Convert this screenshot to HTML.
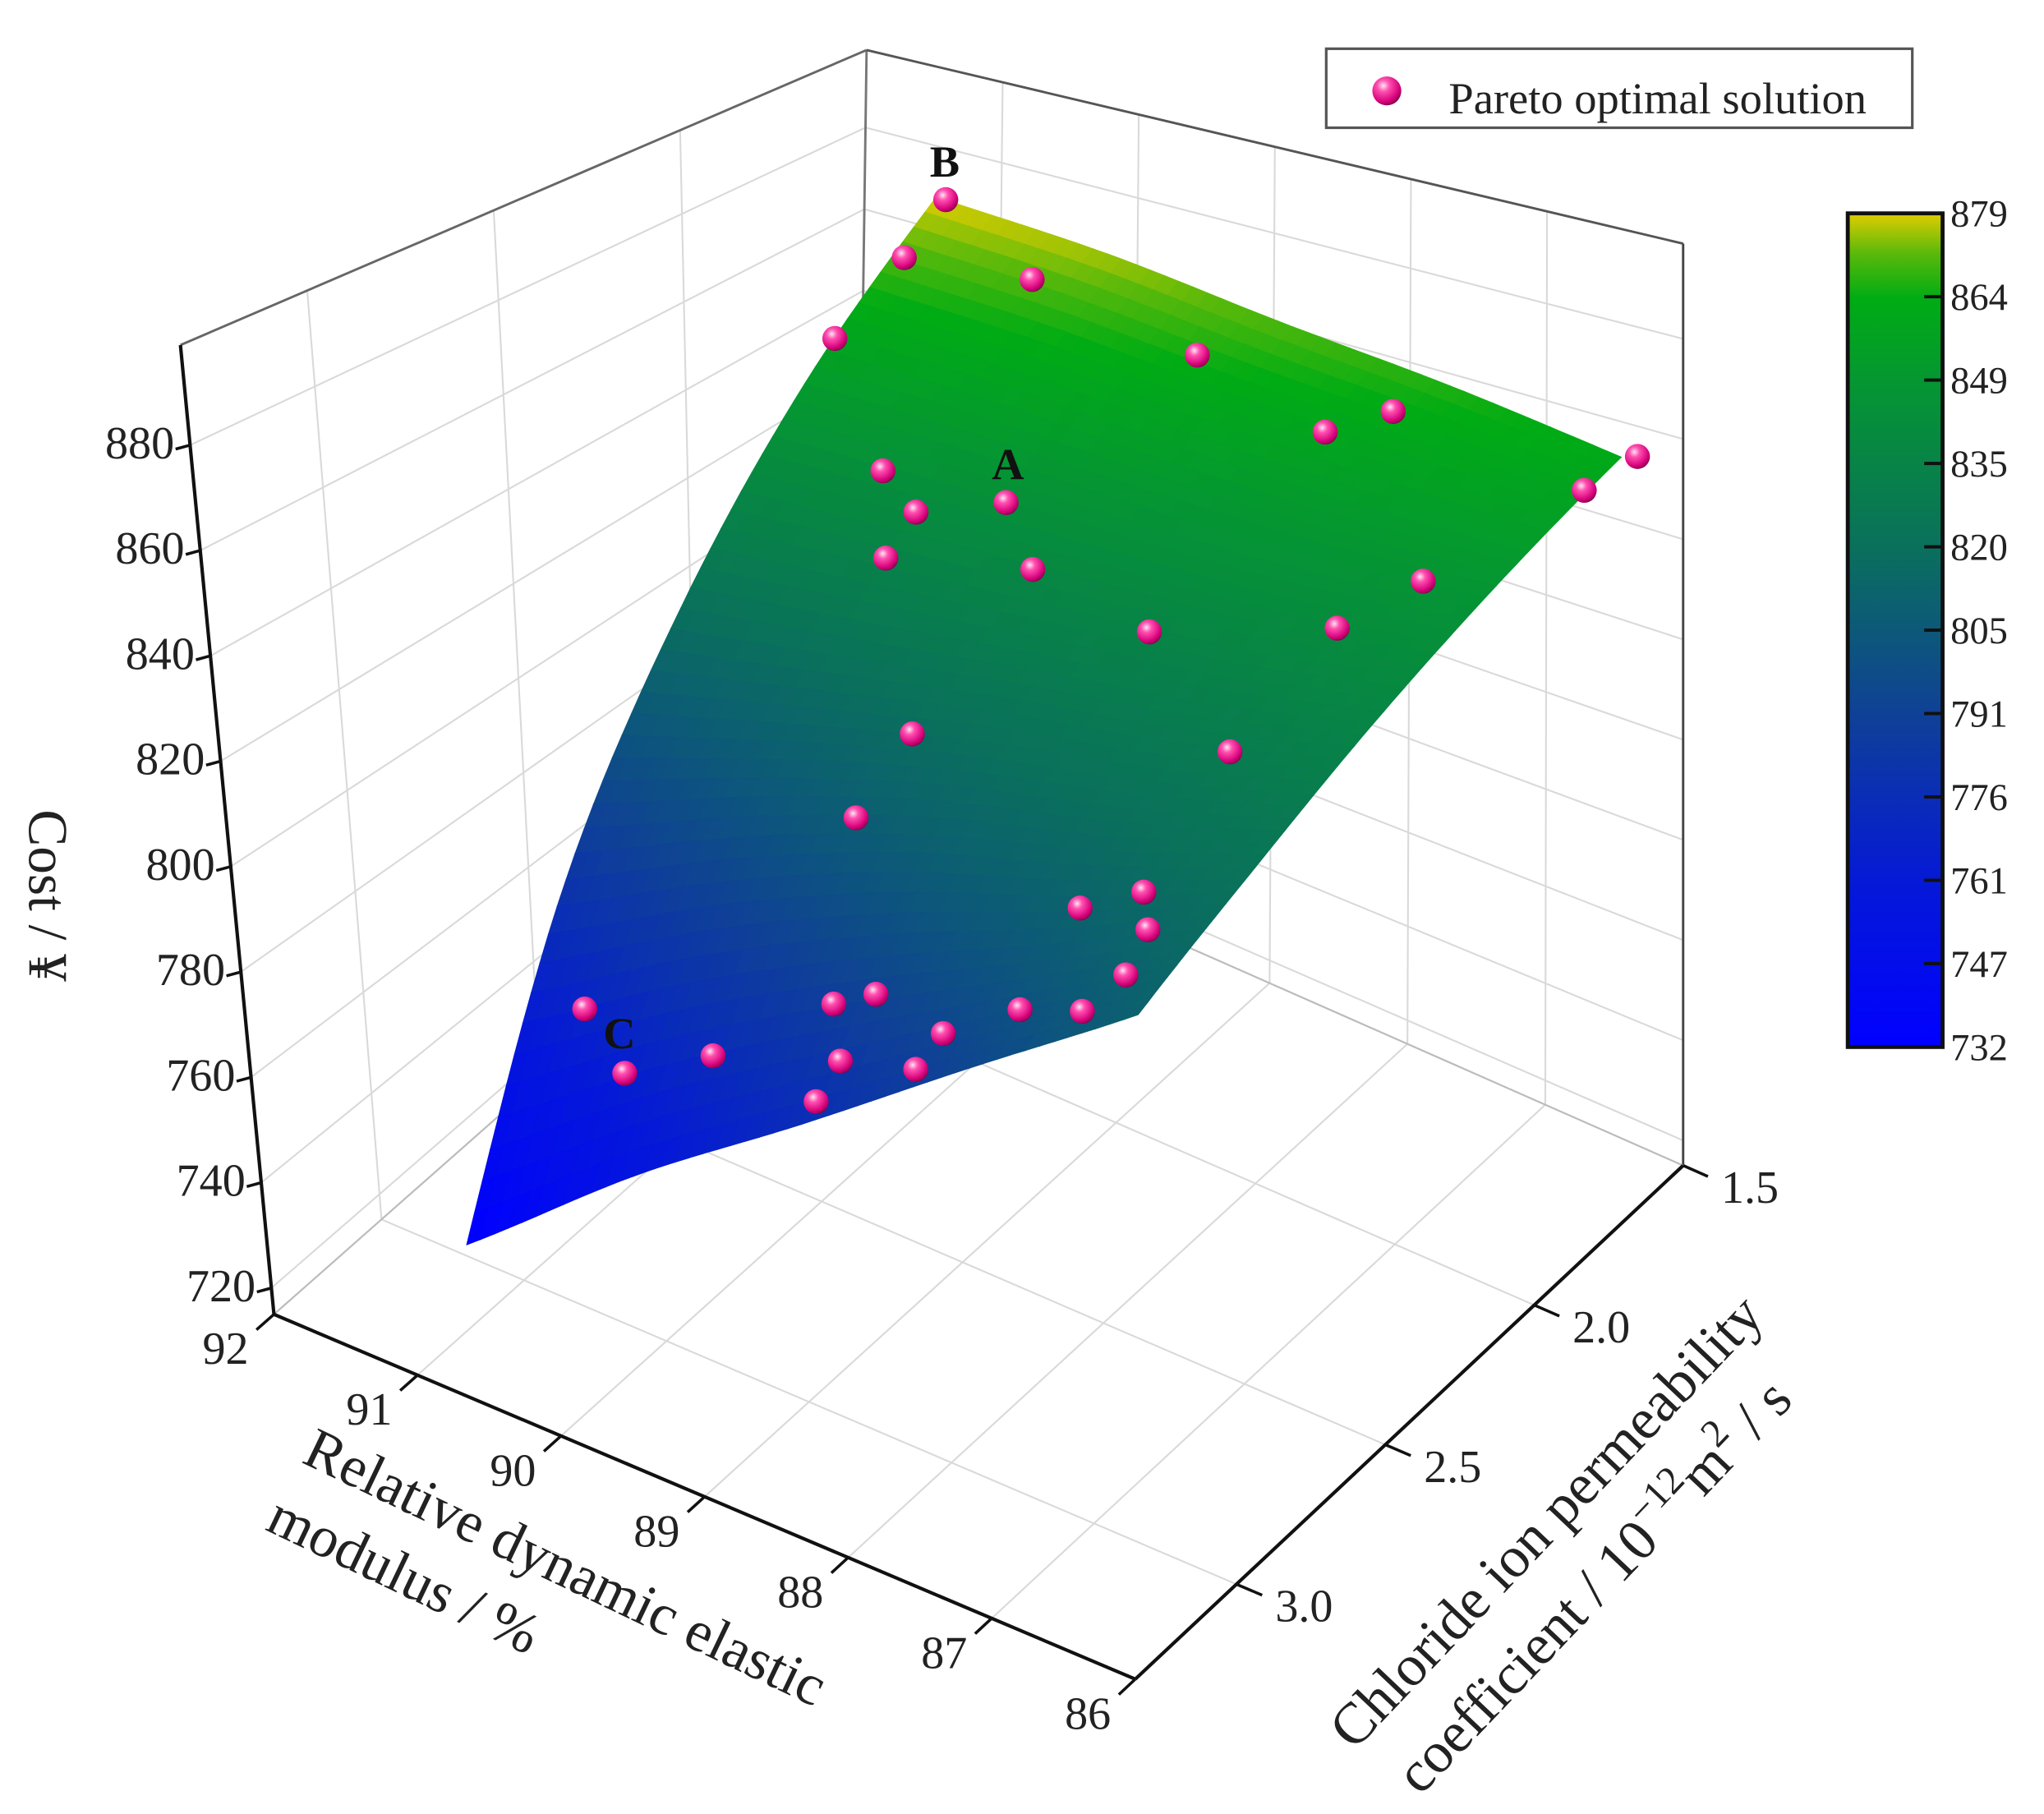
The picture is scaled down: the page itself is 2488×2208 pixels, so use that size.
<!DOCTYPE html>
<html><head><meta charset="utf-8"><style>
html,body{margin:0;padding:0;background:#fff;}
svg{display:block;font-family:"Liberation Serif",serif;}
</style></head><body>
<svg id="chart" width="2488" height="2208" viewBox="0 0 1552 1377.4" preserveAspectRatio="none" xmlns="http://www.w3.org/2000/svg">
<defs>
<radialGradient id="ball" cx="0.38" cy="0.32" r="0.7">
<stop offset="0" stop-color="#ffe6f4"/><stop offset="0.3" stop-color="#ff4fb0"/><stop offset="0.8" stop-color="#d6007a"/><stop offset="1" stop-color="#8a0050"/>
</radialGradient>
<linearGradient id="cbar" x1="0" y1="1" x2="0" y2="0">
<stop offset="0" stop-color="rgb(0,0,255)"/><stop offset="0.197" stop-color="rgb(5,25,215)"/><stop offset="0.401" stop-color="rgb(15,65,150)"/><stop offset="0.599" stop-color="rgb(10,112,92)"/><stop offset="0.796" stop-color="rgb(5,150,50)"/><stop offset="0.898" stop-color="rgb(0,172,20)"/><stop offset="0.952" stop-color="rgb(90,185,10)"/><stop offset="1" stop-color="rgb(225,205,0)"/>
</linearGradient>
</defs>
<g id="grid"></g><g id="surface"></g><g id="axes"></g><g id="points"></g>
<g>
<rect x="1007" y="37" width="445" height="60" fill="#fff" stroke="#555" stroke-width="2"/>
<circle cx="1053" cy="69" r="11" fill="url(#ball)"/>
<text x="1100" y="86" font-size="34" fill="#222">Pareto optimal solution</text>
</g>
<g id="colorbar">
<rect x="1403" y="162" width="72" height="633" fill="url(#cbar)" stroke="#111" stroke-width="3"/>
</g>
<text x="0" y="0" font-size="42" fill="#222" text-anchor="middle" transform="translate(22,680) rotate(90)">Cost / ¥</text>
<g transform="translate(228,1110) rotate(25.5)" font-size="44" fill="#222">
<text x="0" y="0">Relative dynamic elastic</text>
<text x="-3" y="58">modulus / %</text>
</g>
<g transform="translate(1028,1330) rotate(-46.5)" font-size="44" fill="#222">
<text x="0" y="0">Chloride ion permeability</text>
<text x="10" y="60">coefficient / 10<tspan font-size="30" dy="-18">−12</tspan><tspan dy="18">m</tspan><tspan font-size="30" dy="-18">2</tspan><tspan dy="18"> / s</tspan></text>
</g>
<text x="753" y="364" font-size="34" font-weight="bold" fill="#111">A</text>
<text x="706" y="134" font-size="34" font-weight="bold" fill="#111">B</text>
<text x="458" y="796" font-size="34" font-weight="bold" fill="#111">C</text>
</svg>
<script>
// ---- data ----
const costTicks=[720,740,760,780,800,820,840,860,880];
const rdemTicks=[92,91,90,89,88,87,86];
const chlTicks=[3.0,2.5,2.0,1.5];
const cbarLabels=[879,864,849,835,820,805,791,776,761,747,732];
const surfRdem=[91,89.75,88.5,87.25,86];
const surfChl=[3.16,2.79,2.42,2.05,1.68];
const surfCostRow0=[730,755,775,794,811];
const surfCostRow1=[782,797,808,815,823];
const surfCostRow2=[820,824,828,831,836];
const surfCostRow3=[852,851,849,848,849];
const surfCostRow4=[879,876,871,867,862];
const ptRdem=[90.93,90.97,90.09,91.01,88.81,87.46,87.78,85.88,86.02,90.24,89.35,89.88,89.88,88.89,86.58,86.79,87.88,88.98,86.83,89.07,87.11,86.74,86.43,86.34,90.53,90.05,89.40,88.57,88.26,88.38,88.43,87.69,87.62,87.10,86.50];
const ptChl=[1.68,1.78,1.76,1.96,1.79,1.76,1.83,1.68,1.78,2.13,2.13,2.18,2.27,2.24,2.03,2.20,2.31,2.57,2.51,2.71,2.86,2.82,2.94,3.05,2.95,3.04,3.04,3.01,3.01,3.08,3.14,3.14,3.08,3.06,3.12];
const ptCost=[879,869.4,870.7,858.2,865.4,862.9,858.7,863,858.5,842.8,843.3,839.1,833.3,837.6,845.2,840.5,835.7,817.8,828.2,806.9,811.1,815,814.8,811.6,768.8,765.4,774.4,789.2,793.3,783.6,778.6,789.8,794.1,801.1,807];
const surfCost=[surfCostRow0,surfCostRow1,surfCostRow2,surfCostRow3,surfCostRow4];
// ---- axes / projection ----
const NS="http://www.w3.org/2000/svg";
function uOf(r){return (92-r)/6;}
function vOf(c){return (3.34-c)/1.84;}
function wOf(z){return (z-715)/184;}
function projUVW(u,v,w){
 const bx=208+654*u+442*v-26*u*v, by=998+277*u-390*v;
 const tx=137+643*u+521*v-23*u*v, ty=262+98*u-224*v+49*u*v;
 return [bx+w*(tx-bx), by+w*(ty-by)];
}
function proj(r,c,z){return projUVW(uOf(r),vOf(c),wOf(z));}
function mk(tag,attrs,parent){const e=document.createElementNS(NS,tag);for(const k in attrs)e.setAttribute(k,attrs[k]);parent.appendChild(e);return e;}
const stops=[[732,[0,0,255]],[761,[5,25,215]],[791,[15,65,150]],[820,[10,112,92]],[849,[5,150,50]],[864,[0,172,20]],[872,[90,185,10]],[879,[225,205,0]]];
function cmap(z){
 if(z<=stops[0][0])return stops[0][1];
 for(let i=1;i<stops.length;i++){if(z<=stops[i][0]){const a=stops[i-1],b=stops[i],t=(z-a[0])/(b[0]-a[0]);return a[1].map((x,k)=>Math.round(x+(b[1][k]-x)*t));}}
 return stops[stops.length-1][1];
}
const G=document.getElementById('grid');
const gc='#d9d9d9';
function line(p,q,parent,stroke,sw,name){const l=mk('line',{x1:p[0],y1:p[1],x2:q[0],y2:q[1],stroke:stroke,'stroke-width':sw},parent);return l;}
rdemTicks.forEach(r=>{const u=uOf(r);
 line(projUVW(u,0,0),projUVW(u,1,0),G,gc,1.3,'floor-gridline');
 line(projUVW(u,1,0),projUVW(u,1,1),G,gc,1.3,'back-wall-gridline');});
chlTicks.forEach(c=>{const v=vOf(c);
 line(projUVW(0,v,0),projUVW(1,v,0),G,gc,1.3,'floor-gridline');
 line(projUVW(0,v,0),projUVW(0,v,1),G,gc,1.3,'left-wall-gridline');});
costTicks.forEach(z=>{const w=wOf(z);
 line(projUVW(0,0,w),projUVW(0,1,w),G,gc,1.3,'left-wall-gridline');
 line(projUVW(0,1,w),projUVW(1,1,w),G,gc,1.3,'back-wall-gridline');});
line(projUVW(0,1,0),projUVW(0,1,1),G,'#777',1.8,'box-edge');
line(projUVW(1,1,0),projUVW(1,1,1),G,'#444',1.8,'box-edge');
line(projUVW(0,0,1),projUVW(0,1,1),G,'#666',1.8,'box-edge');
line(projUVW(0,1,1),projUVW(1,1,1),G,'#555',1.8,'box-edge');
line(projUVW(0,0,0),projUVW(0,1,0),G,'#bbb',1.3,'box-edge');
line(projUVW(0,1,0),projUVW(1,1,0),G,'#bbb',1.3,'box-edge');
const S=document.getElementById('surface');

function cr(p0,p1,p2,p3,t){return 0.5*((2*p1)+(-p0+p2)*t+(2*p0-5*p1+4*p2-p3)*t*t+(-p0+3*p1-3*p2+p3)*t*t*t);}
function sample(arr,a){const n=arr.length-1;const i=Math.min(Math.floor(a),n-1),t=a-i;
 const g=k=>k<0?2*arr[0]-arr[1]:(k>n?2*arr[n]-arr[n-1]:arr[k]);
 return cr(g(i-1),g(i),g(i+1),g(i+2),t);}
function surfAt(a,b){
 const col=surfCost.map(row=>sample(row,a));
 const z=sample(col,b);
 const n=surfRdem.length-1,m=surfChl.length-1;
 const i=Math.min(Math.floor(a),n-1),j=Math.min(Math.floor(b),m-1);const fa=a-i,fb=b-j;
 const r=surfRdem[i]+(surfRdem[i+1]-surfRdem[i])*fa, c=surfChl[j]+(surfChl[j+1]-surfChl[j])*fb;
 return [r,c,z];
}
const N=48;const n=surfRdem.length-1,m=surfChl.length-1;
for(let jj=N-1;jj>=0;jj--){for(let ii=0;ii<N;ii++){
 const cs=[[ii,jj],[ii+1,jj],[ii+1,jj+1],[ii,jj+1]].map(q=>surfAt(q[0]*n/N,q[1]*m/N));
 const pts=cs.map(q=>proj(q[0],q[1],q[2]));
 const zc=(cs[0][2]+cs[1][2]+cs[2][2]+cs[3][2])/4;const col=cmap(zc);
 const fill='rgb('+col.join(',')+')';
 const p=mk('polygon',{points:pts.map(q=>q[0].toFixed(1)+','+q[1].toFixed(1)).join(' '),fill:fill,stroke:fill,'stroke-width':0.8},S);
 
 
}}
const A=document.getElementById('axes');
line(projUVW(0,0,0),projUVW(0,0,1),A,'#111',2.6,'cost-axis-line');
line(projUVW(0,0,0),projUVW(1,0,0),A,'#111',2.6,'rdem-axis-line');
line(projUVW(1,0,0),projUVW(1,1,0),A,'#111',2.6,'chloride-axis-line');
costTicks.forEach(z=>{const p=projUVW(0,0,wOf(z));
 line(p,[p[0]-11,p[1]+3],A,'#111',2.2,'cost-tick');
 const t=mk('text',{x:p[0]-12,y:p[1]+10,'font-size':35,'text-anchor':'end',fill:'#222'},A);t.textContent=z;
 });
rdemTicks.forEach(r=>{const u=uOf(r);const p=projUVW(u,0,0),q=projUVW(u,-0.03,0);
 line(p,q,A,'#111',2.2,'rdem-tick');
 const t=mk('text',{x:q[0]-6,y:q[1]+26,'font-size':35,'text-anchor':'end',fill:'#222'},A);t.textContent=r;
 });
chlTicks.forEach(c=>{const v=vOf(c);const p=projUVW(1,v,0),q=projUVW(1.03,v,0);
 line(p,q,A,'#111',2.2,'chloride-tick');
 const t=mk('text',{x:q[0]+10,y:q[1]+20,'font-size':35,fill:'#222'},A);t.textContent=c.toFixed(1);
 });
const CB=document.getElementById('colorbar');
cbarLabels.forEach((v,i)=>{const y=162+i*(633/(cbarLabels.length-1));
 if(i>0&&i<cbarLabels.length-1){line([1461,y],[1475,y],CB,'#111',2.5,'colorbar-tick');}
 const t=mk('text',{x:1481,y:y+10,'font-size':29,fill:'#222'},CB);t.textContent=v;
 });
const P=document.getElementById('points');
ptRdem.forEach((r,i)=>{const p=proj(r,ptChl[i],ptCost[i]);
 const c=mk('circle',{cx:p[0].toFixed(1),cy:p[1].toFixed(1),r:9.5,fill:'url(#ball)'},P);
 
 });
</script>
</body></html>
